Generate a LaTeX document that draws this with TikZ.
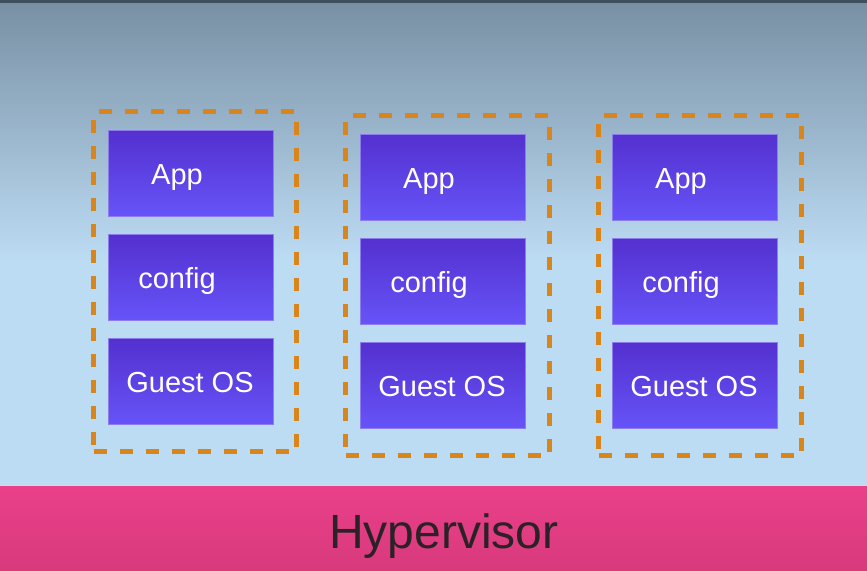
\documentclass[tikz,border=0pt]{standalone}
\usepackage{fontspec}
\setmainfont{Liberation Sans}
\usetikzlibrary{calc}
\definecolor{bgtop}{HTML}{788FA3}
\definecolor{bgmid}{HTML}{BCDCF4}
\definecolor{bgline}{HTML}{3E5060}
\definecolor{dashor}{HTML}{D8861C}
\definecolor{purtop}{HTML}{5430CF}
\definecolor{purbot}{HTML}{6654F8}
\definecolor{purline}{HTML}{8C7CEC}
\definecolor{pinktop}{HTML}{EA408A}
\definecolor{pinkbot}{HTML}{D83A7C}
\definecolor{hvtext}{HTML}{2A2226}
\tikzset{
  vmbox/.style={draw=dashor, line width=5pt, dash pattern=on 13pt off 13pt},
  layerbox/.style={draw=purline, line width=0.8pt, top color=purtop, bottom color=purbot,
    minimum width=165pt, minimum height=86pt, inner sep=0pt, anchor=north west},
  layertext/.style={text=white, font=\fontsize{29}{29}\selectfont, anchor=base, inner sep=0pt},
}
\begin{document}
\begin{tikzpicture}[x=1pt,y=-1pt]
\useasboundingbox (0,0) rectangle (867,570);
% background
\shade[top color=bgtop, bottom color=bgmid] (0,0) rectangle (867,260);
\fill[bgmid] (0,259.5) rectangle (867,486);
\fill[bgline] (0,0) rectangle (867,2.5);
% hypervisor
\node[minimum width=867pt, minimum height=85pt, inner sep=0pt, anchor=north west,
  top color=pinktop, bottom color=pinkbot] (hv) at (0,485) {};
\draw[white!70!pinktop, line width=1pt] (hv.north west) -- (hv.north east);
\node[text=hvtext, font=\fontsize{48}{48}\selectfont, anchor=base, inner sep=0pt] (hvt) at (444,548) {Hypervisor};
% columns
\foreach \i/\bx/\by/\dl/\dt/\dr/\db in {1/108/130/91/109/294/449, 2/360/134/343/113/547/453, 3/612/134/596/113/799/453}{
  \node[vmbox, inner sep=0pt, anchor=north west, minimum width={\dr-\dl}, minimum height={\db-\dt}] (vm\i) at (\dl,\dt) {};
  \node[layerbox] (app\i) at (\bx,\by) {};
  \node[layerbox] (cfg\i) at (\bx,\by+104) {};
  \node[layerbox] (os\i) at (\bx,\by+208) {};
  \node[layertext] (appt\i) at (\bx+69,\by+54) {App};
  \node[layertext] (cfgt\i) at (\bx+69,\by+104+54) {config};
  \node[layertext] (ost\i) at (\bx+82,\by+208+54) {Guest OS};
}
\end{tikzpicture}
\end{document}
